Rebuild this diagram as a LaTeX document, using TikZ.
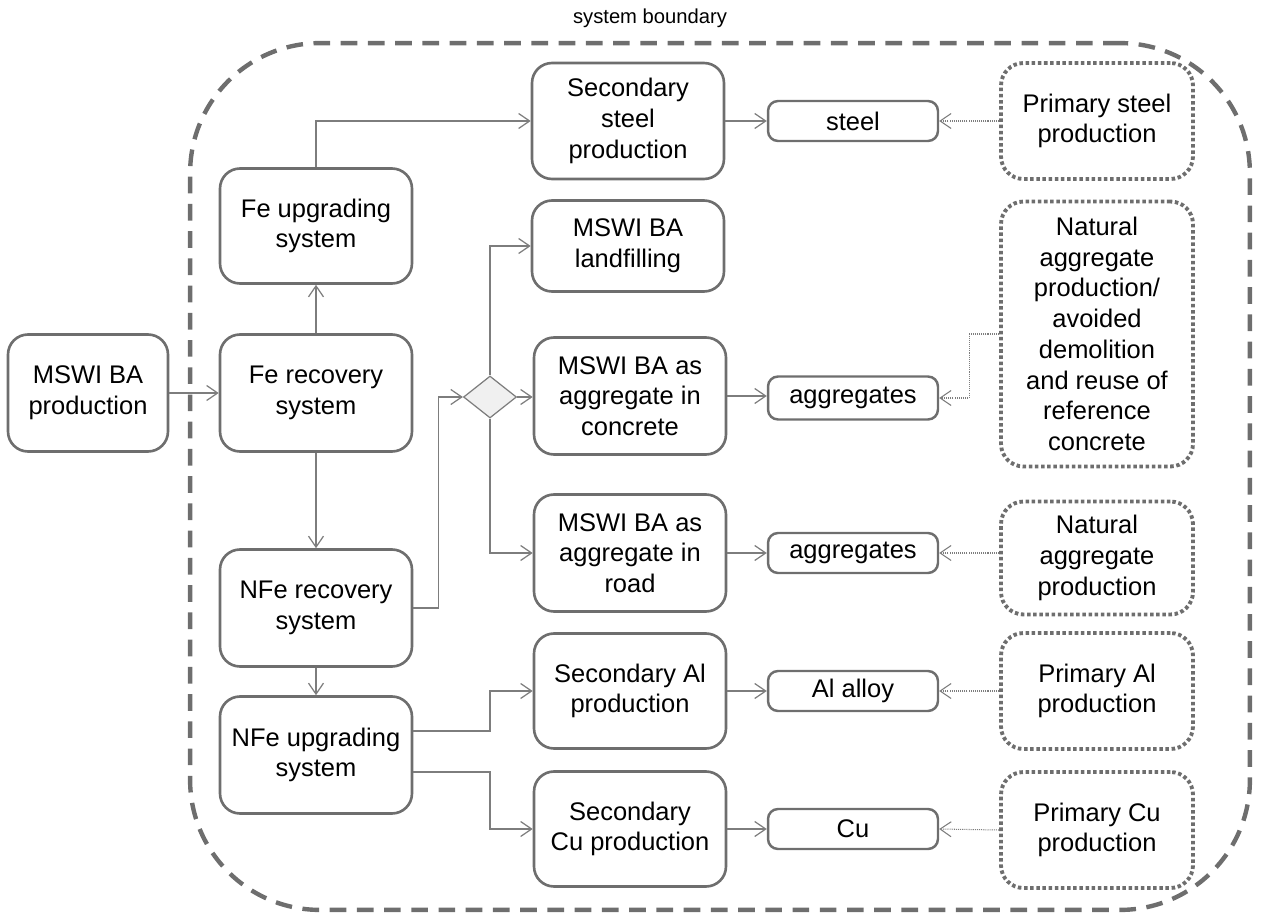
\documentclass[tikz,border=0pt]{standalone}
\usepackage{fontspec}
\setmainfont{Liberation Sans}
\usetikzlibrary{arrows.meta, shapes.geometric}

\definecolor{boxgray}{RGB}{110,110,110}
\definecolor{linegray}{RGB}{125,125,125}

\begin{document}
\begin{tikzpicture}[
    x=0.02cm, y=-0.02cm,
    font=\fontsize{14.5}{17.5}\selectfont,
    proc/.style={draw=boxgray, line width=1.5pt, rounded corners=0.4cm, minimum width=3.84cm, minimum height=2.34cm, align=center, inner sep=2pt},
    flow/.style={draw=boxgray, line width=1.4pt, rounded corners=0.2cm, minimum width=3.4cm, minimum height=0.8cm, align=center, inner sep=1pt},
    avoid/.style={draw=boxgray, line width=2.2pt, dash pattern=on 2pt off 1.5pt, rounded corners=0.45cm, minimum width=3.84cm, minimum height=2.32cm, align=center},
    arr/.style={-{Straight Barb[length=2.2mm, width=3mm]}, draw=linegray, line width=0.7pt},
    darr/.style={arr, line width=0.6pt, dash pattern=on 0.6pt off 0.6pt}
]
\useasboundingbox (0,0) rectangle (1269,923);

% ---------- System boundary ----------
\node[draw=boxgray, line width=2.5pt, dash pattern=on 9.5pt off 6pt, rounded corners=2.6cm,
      minimum width=21.2cm, minimum height=17.34cm] (boundary) at (720,476.5) {};
\node[font=\fontsize{11.5}{14}\selectfont] (sblabel) at (650,18) {system boundary};

% ---------- Processes ----------
\node[proc, minimum width=3.2cm] (prod) at (88,393) {MSWI BA\\production};
\node[proc] (ferec)  at (316,393) {Fe recovery\\system};
\node[proc, minimum height=2.3cm] (feup) at (316,226) {Fe upgrading\\system};
\node[proc] (nferec) at (316,608) {NFe recovery\\system};
\node[proc] (nfeup)  at (316,755) {NFe upgrading\\system};

\node[diamond, draw=linegray, fill=gray!12, line width=0.7pt, inner sep=0pt,
      minimum width=1.06cm, minimum height=0.84cm] (split) at (490,397) {};

\node[proc, minimum height=2.32cm] (secsteel) at (628,121) {Secondary\\steel\\production};
\node[proc, minimum height=1.82cm] (landfill) at (628,246) {MSWI BA\\landfilling};
\node[proc] (concrete) at (630,396) {MSWI BA as\\aggregate in\\concrete};
\node[proc] (road)     at (630,553) {MSWI BA as\\aggregate in\\road};
\node[proc, minimum height=2.3cm] (secal) at (630,691) {Secondary Al\\production};
\node[proc, minimum height=2.3cm] (seccu) at (630,829) {Secondary\\Cu production};

% ---------- Products ----------
\node[flow] (steel)  at (853,121) {steel};
\node[flow, minimum height=0.86cm] (agg1) at (853,398) {aggregates};
\node[flow] (agg2)   at (853,553) {aggregates};
\node[flow] (alloy)  at (853,691) {Al alloy};
\node[flow] (cu)     at (853,829) {Cu};

% ---------- Avoided production ----------
\node[avoid] (primsteel) at (1097,121) {Primary steel\\production};
\node[avoid, minimum height=5.3cm] (natagg1) at (1097,334)
    {Natural\\aggregate\\production/\\avoided\\demolition\\and reuse of\\reference\\concrete};
\node[avoid, minimum height=2.26cm] (natagg2) at (1097,558) {Natural\\aggregate\\production};
\node[avoid] (primal) at (1097,691) {Primary Al\\production};
\node[avoid] (primcu) at (1097,830) {Primary Cu\\production};

% ---------- Main flow ----------
\draw[arr] (prod) -- (ferec);
\draw[arr] (ferec) -- (feup);
\draw[arr] (feup.north) |- (secsteel.west);
\draw[arr] (ferec) -- (nferec);
\draw[arr] (nferec) -- (nfeup);
\draw[arr] (nferec.east) -- ++(25,0) |- (split.west);

\draw[arr] (split.north) |- (landfill.west);
\draw[arr] (split.east) -- (split.east -| concrete.west);
\draw[arr] (split.south) |- (road.west);

\draw[arr] ([yshift=0.48cm]nfeup.east) -- ([yshift=0.48cm]nfeup.east -| split) |- (secal.west);
\draw[arr] ([yshift=-0.34cm]nfeup.east) -- ([yshift=-0.34cm]nfeup.east -| split) |- (seccu.west);

% ---------- Products out ----------
\draw[arr] (secsteel) -- (steel);
\draw[arr] (concrete.east) -- (concrete.east -| agg1.west);
\draw[arr] (road) -- (agg2);
\draw[arr] (secal) -- (alloy);
\draw[arr] (seccu) -- (cu);

% ---------- Substitution (dotted) ----------
\draw[darr] (primsteel.west) -- (steel.east);
\draw[darr] (natagg1.west) -- ++(-30,0) |- (agg1.east);
\draw[darr] (agg2.east -| natagg2.west) -- (agg2.east);
\draw[darr] (primal.west) -- (alloy.east);
\draw[darr] (primcu.west) -- (cu.east);

\end{tikzpicture}
\end{document}
